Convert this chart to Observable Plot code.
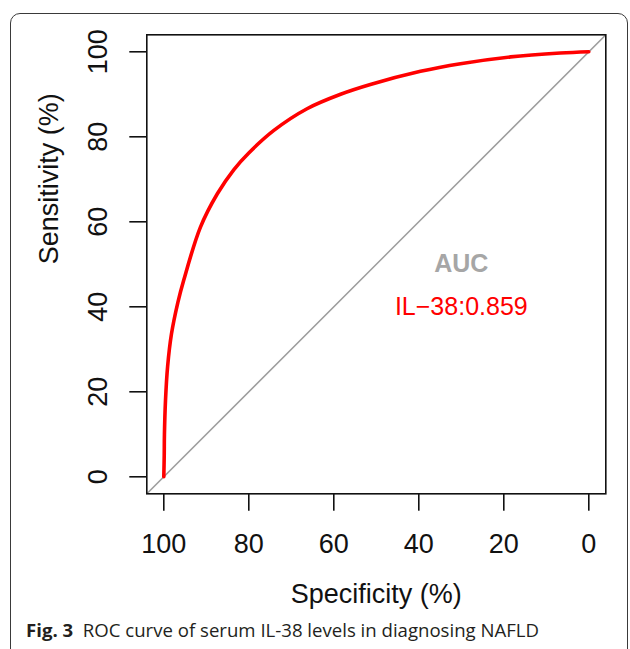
<!DOCTYPE html>
<html>
<head>
<meta charset="utf-8">
<script src="https://cdn.jsdelivr.net/npm/d3@7"></script>
<script src="https://cdn.jsdelivr.net/npm/@observablehq/plot@0.6"></script>
<style>
  html, body { margin: 0; padding: 0; background: #fff; }
  #wrap { position: relative; width: 630px; height: 649px; overflow: hidden; background: #fff; }
  #border { position: absolute; left: 10px; top: 13px; width: 618px; height: 650px;
            border: 1.2px solid #3a3a3a; border-radius: 10px; box-sizing: border-box; }
  #chart { position: absolute; left: 0; top: 0; }
  #caption { position: absolute; left: 26px; top: 617px; font-family: "Open Sans", sans-serif;
             font-size: 18.6px; color: #231f20; white-space: pre; }
  #caption b { font-weight: 700; }
</style>
</head>
<body>
<div id="wrap">
  <div id="border"></div>
  <div id="chart"></div>
  <div id="caption"><b>Fig. 3</b>  ROC curve of serum IL-38 levels in diagnosing NAFLD</div>
</div>
<script>
// ROC curve (specificity %, sensitivity %)
const specificity = [100, 99.9, 99.85, 99.6, 99.1, 98.2, 96.7, 95.3, 91.4, 87.4, 83.5, 80, 74.1, 66.3, 58.4, 51.4, 39.6, 30.2, 18.4, 6.7, 0];
const sensitivity = [0, 5, 10, 18, 26, 33.6, 41.0, 46.3, 58.7, 66.6, 72.3, 76.2, 81.5, 86.6, 90.0, 92.3, 95.4, 97.2, 98.8, 99.7, 100];
// chance diagonal end points
const diagSpec = [110, -10];
const diagSens = [-10, 110];
// ticks
const xTicks = [100, 80, 60, 40, 20, 0];
const yTicks = [0, 20, 40, 60, 80, 100];
// annotation
const aucTitle = "AUC";
const aucText = "IL\u221238:0.859";
const aucSpec = 30;
const aucTitleSens = 50;
const aucTextSens = 40;

const roc = specificity.map((s, i) => ({spec: s, sens: sensitivity[i]}));
const diag = diagSpec.map((s, i) => ({spec: s, sens: diagSens[i]}));

const font = "Liberation Sans, Arial, Helvetica, sans-serif";
const H = 615;
const chart = Plot.plot({
  width: 630,
  height: H,
  marginLeft: 146.3,
  marginRight: 24.7,
  marginTop: 34.3,
  marginBottom: H - 493.3,
  style: {fontFamily: font, background: "transparent", overflow: "visible"},
  x: {domain: [104, -4], label: null},
  y: {domain: [-4, 104], label: null},
  marks: [
    Plot.line(diag, {x: "spec", y: "sens", stroke: "#9e9e9e", strokeWidth: 1.5, clip: true}),
    Plot.line(roc, {x: "spec", y: "sens", stroke: "#ff0000", strokeWidth: 3.6, curve: "catmull-rom"}),
    Plot.frame({stroke: "#111", strokeWidth: 1.6}),
    Plot.axisX({ticks: xTicks, tickSize: 17.4, tickPadding: 23, fontSize: 27, stroke: "#111", strokeWidth: 1.6, fill: "#111", label: null}),
    Plot.axisY({ticks: yTicks, tickSize: 17, tickFormat: () => "", stroke: "#111", strokeWidth: 1.6, label: null}),
    Plot.text(yTicks, {y: d => d, text: d => String(d), frameAnchor: "left", dx: -39.5, rotate: -90, lineAnchor: "bottom", textAnchor: "middle", fontSize: 27, fill: "#111"}),
    Plot.text(["Specificity (%)"], {text: d => d, frameAnchor: "bottom", dy: 108.7, lineAnchor: "bottom", fontSize: 27, fill: "#111"}),
    Plot.text(["Sensitivity (%)"], {text: d => d, frameAnchor: "left", dx: -89.3, rotate: -90, lineAnchor: "bottom", fontSize: 27, fill: "#111"}),
    Plot.text([aucTitle], {x: () => aucSpec, y: () => aucTitleSens, text: d => d, fill: "#a6a6a6", fontWeight: "bold", fontSize: 25}),
    Plot.text([aucText], {x: () => aucSpec, y: () => aucTextSens, text: d => d, fill: "#ff0000", fontSize: 25})
  ]
});
document.getElementById("chart").appendChild(chart);
</script>
</body>
</html>
